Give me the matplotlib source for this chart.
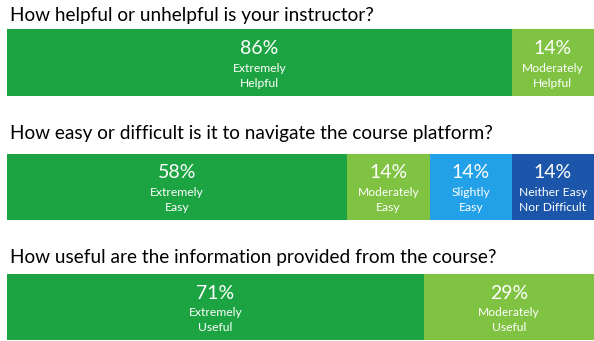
import matplotlib
matplotlib.use("Agg")
import matplotlib.pyplot as plt

plt.rcParams['font.family'] = ['Lato', 'DejaVu Sans']

# Survey questions and response shares (%)
questions = [
    "How helpful or unhelpful is your instructor?",
    "How easy or difficult is it to navigate the course platform?",
    "How useful are the information provided from the course?",
]
q1_values = [86, 14]
q1_labels = ["Extremely\nHelpful", "Moderately\nHelpful"]
q2_values = [58, 14, 14, 14]
q2_labels = ["Extremely\nEasy", "Moderately\nEasy", "Slightly\nEasy", "Neither Easy\nNor Difficult"]
q3_values = [71, 29]
q3_labels = ["Extremely\nUseful", "Moderately\nUseful"]

colors = ["#1da442", "#80c342", "#22a0e8", "#1b56ab"]

fig = plt.figure(figsize=(5.94, 3.41), dpi=100)

# bar rows: (bottom, height) in figure fraction, title y in pixels from top
rows = [(0.7185, 0.196, 15), (0.355, 0.194, 133), (0.003, 0.194, 258)]
data = [(q1_values, q1_labels), (q2_values, q2_labels), (q3_values, q3_labels)]

for (bottom, height, ty), question, (vals, labs) in zip(rows, questions, data):
    ax = fig.add_axes([7 / 594, bottom, 587 / 594, height])
    left = 0
    for i, (v, lab) in enumerate(zip(vals, labs)):
        ax.barh(0, v, left=left, height=1, color=colors[i], edgecolor='none')
        cx = left + v / 2
        ax.text(cx, 0.21, f"{v}%", ha='center', va='center', color='white', fontsize=14)
        ax.text(cx, -0.2, lab, ha='center', va='center', color='white',
                fontsize=8.7, linespacing=1.45)
        left += v
    ax.set_xlim(0, 100)
    ax.set_ylim(-0.5, 0.5)
    ax.axis('off')
    fig.text(10 / 594, 1 - ty / 341, question, ha='left', va='center', fontsize=13.7, color='black')

fig.savefig("out.png", dpi=100)
